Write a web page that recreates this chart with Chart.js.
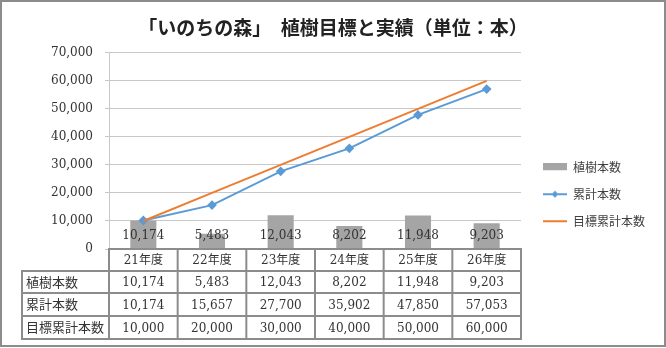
<!DOCTYPE html>
<html>
<head>
<meta charset="utf-8">
<script src="https://cdn.jsdelivr.net/npm/chart.js@4/dist/chart.umd.min.js"></script>
<style>
  body { margin: 0; background: #fff; }
</style>
</head>
<body>
<canvas id="chart" width="666" height="348"></canvas>
<script>
// data
const categories = ['21年度', '22年度', '23年度', '24年度', '25年度', '26年度'];
const planted = [10174, 5483, 12043, 8202, 11948, 9203];
const cumulative = [10174, 15657, 27700, 35902, 47850, 57053];
const target = [10000, 20000, 30000, 40000, 50000, 60000];
const seriesNames = ['植樹本数', '累計本数', '目標累計本数'];
const yMax = 70000;
const yStep = 10000;

const GRAY = '#a5a5a5', BLUE = '#5b9bd5', ORANGE = '#ed7d31';
const NUM_FONT = '12px "DejaVu Serif", "Noto Sans CJK JP"';
const JP_FONT = '"Noto Sans CJK JP", sans-serif';

const fmt = v => v.toLocaleString('en-US');

// little legend icons
function icon(kind) {
  const c = document.createElement('canvas');
  c.width = 24; c.height = 8;
  const g = c.getContext('2d');
  if (kind === 'bar') {
    g.fillStyle = GRAY;
    g.fillRect(0, 0, 24, 7);
  } else {
    g.strokeStyle = kind === 'cum' ? BLUE : ORANGE;
    g.lineWidth = 2;
    g.beginPath(); g.moveTo(0, 4); g.lineTo(24, 4); g.stroke();
    if (kind === 'cum') {
      g.fillStyle = BLUE;
      g.beginPath(); g.moveTo(12, 0.5); g.lineTo(15.5, 4); g.lineTo(12, 7.5); g.lineTo(8.5, 4); g.closePath(); g.fill();
    }
  }
  return c;
}
const icons = [icon('bar'), icon('cum'), icon('target')];

const frame = {
  id: 'frame',
  beforeUpdate(chart) {
    // fixed legend width so the plot ends where the reference does
    const lg = chart.legend;
    if (lg && !lg._fixed) {
      const fit = lg.fit;
      lg.fit = function () { fit.call(this); this.width = 138; };
      lg._fixed = true;
    }
  },
  beforeDraw(chart) {
    const ctx = chart.ctx;
    ctx.save();
    ctx.fillStyle = '#fff';
    ctx.fillRect(0, 0, chart.width, chart.height);
    ctx.restore();
  },
  afterDraw(chart) {
    const ctx = chart.ctx;
    ctx.save();
    ctx.strokeStyle = '#8c8c8c';
    ctx.lineWidth = 2;
    ctx.strokeRect(1, 1, chart.width - 2, chart.height - 3);
    ctx.restore();
  }
};

const barLabels = {
  id: 'barLabels',
  afterDatasetsDraw(chart) {
    const ctx = chart.ctx;
    const y0 = chart.scales.y.getPixelForValue(0);
    ctx.save();
    ctx.font = NUM_FONT;
    ctx.fillStyle = '#333';
    ctx.textAlign = 'center';
    ctx.textBaseline = 'middle';
    chart.getDatasetMeta(0).data.forEach((el, i) => {
      ctx.fillText(fmt(planted[i]), el.x, y0 - 13);
    });
    ctx.restore();
  }
};

const dataTable = {
  id: 'dataTable',
  afterDraw(chart) {
    const ctx = chart.ctx;
    const a = chart.chartArea;
    const x = chart.scales.x;
    const half = (a.right - a.left) / categories.length / 2;
    const rows = [a.bottom, a.bottom + 22, a.bottom + 44, a.bottom + 67, a.bottom + 90];
    const labelLeft = 22;
    const edges = categories.map((c, i) => x.getPixelForValue(i) - half);
    edges.push(a.right);

    ctx.save();
    ctx.strokeStyle = '#8c8c8c';
    ctx.lineWidth = 2;
    ctx.beginPath();
    ctx.moveTo(a.left - 1, rows[0]); ctx.lineTo(a.right + 1, rows[0]);
    for (let r = 1; r < rows.length; r++) {
      ctx.moveTo(labelLeft - 1, rows[r]); ctx.lineTo(a.right + 1, rows[r]);
    }
    ctx.moveTo(labelLeft, rows[1]); ctx.lineTo(labelLeft, rows[4]);
    edges.forEach(e => { ctx.moveTo(e, rows[0]); ctx.lineTo(e, rows[4]); });
    ctx.stroke();

    ctx.fillStyle = '#333';
    ctx.textBaseline = 'middle';
    ctx.textAlign = 'center';
    ctx.font = NUM_FONT;
    const rowData = [planted, cumulative, target];
    categories.forEach((c, i) => {
      const cx = x.getPixelForValue(i);
      ctx.fillText(c, cx, (rows[0] + rows[1]) / 2 + 1);
      rowData.forEach((d, r) => {
        ctx.fillText(fmt(d[i]), cx, (rows[r + 1] + rows[r + 2]) / 2 + 1);
      });
    });
    ctx.textAlign = 'left';
    ctx.font = '13px ' + JP_FONT;
    seriesNames.forEach((n, r) => {
      ctx.fillText(n, labelLeft + 4, (rows[r + 1] + rows[r + 2]) / 2);
    });
    ctx.restore();
  }
};

new Chart(document.getElementById('chart'), {
  type: 'bar',
  data: {
    labels: categories,
    datasets: [
      {
        type: 'bar',
        label: seriesNames[0],
        data: planted,
        backgroundColor: GRAY,
        barPercentage: 0.38,
        categoryPercentage: 1,
        order: 3
      },
      {
        type: 'line',
        label: seriesNames[1],
        data: cumulative,
        borderColor: BLUE,
        backgroundColor: BLUE,
        borderWidth: 2,
        pointStyle: 'rectRot',
        pointRadius: 3.5,
        order: 2
      },
      {
        type: 'line',
        label: seriesNames[2],
        data: target,
        borderColor: ORANGE,
        backgroundColor: ORANGE,
        borderWidth: 2,
        pointRadius: 0,
        order: 1
      }
    ]
  },
  options: {
    responsive: false,
    animation: false,
    devicePixelRatio: 1,
    layout: { padding: { left: 0, right: 0, top: 0, bottom: 0 } },
    scales: {
      x: {
        offset: true,
        grid: { display: false },
        border: { display: false },
        ticks: { display: false },
        afterFit: s => { s.height = 99; }
      },
      y: {
        min: 0,
        max: yMax,
        ticks: {
          stepSize: yStep,
          padding: 12,
          color: '#333',
          font: { family: '"DejaVu Serif"', size: 12 },
          callback: v => fmt(v)
        },
        grid: { color: '#c8c8c8', tickLength: 4 },
        border: { color: '#c8c8c8' },
        afterFit: s => { s.width = 109; }
      },
      y2: {
        position: 'right',
        display: true,
        grid: { display: false },
        border: { display: false },
        ticks: { display: false },
        afterFit: s => { s.width = 7; }
      }
    },
    plugins: {
      title: {
        display: true,
        text: '「いのちの森」　植樹目標と実績（単位：本）',
        color: '#222',
        font: { family: JP_FONT, size: 19, weight: 'bold', lineHeight: 1.2 },
        padding: { top: 16, bottom: 14 }
      },
      legend: {
        position: 'right',
        title: { display: true, text: ' ', font: { size: 12, lineHeight: 1.2 }, padding: 13 },
        labels: {
          color: '#404040',
          font: { family: JP_FONT, size: 12 },
          padding: 15,
          usePointStyle: true,
          pointStyleWidth: 24,
          sort: (p, q) => p.datasetIndex - q.datasetIndex,
          generateLabels: chart => {
            const items = Chart.defaults.plugins.legend.labels.generateLabels(chart);
            items.forEach(it => { it.pointStyle = icons[it.datasetIndex]; });
            return items;
          }
        }
      },
      tooltip: { enabled: false }
    }
  },
  plugins: [frame, barLabels, dataTable]
});
</script>
</body>
</html>
